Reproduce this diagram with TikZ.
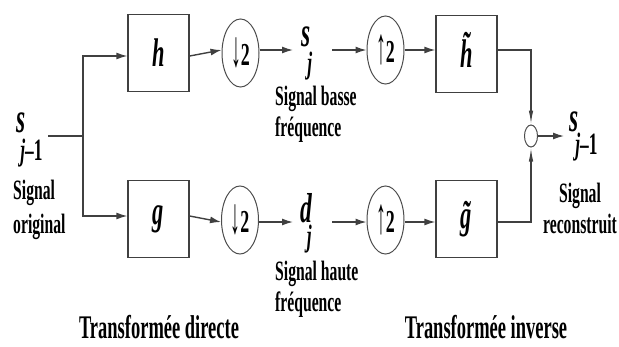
\documentclass[tikz,border=0pt]{standalone}
\usepackage{fontspec}
\newfontfamily\lblfont{Liberation Serif}[FakeStretch=0.56]
\usetikzlibrary{arrows.meta,shapes.geometric}
\newcommand\tildeon[2]{\ooalign{#2\cr\hidewidth\raisebox{#1}{˜}\hidewidth\cr}}
\newcommand\tallarrow[1]{\raisebox{-1pt}{\scalebox{1.1}[1.6]{#1}}}
\newcommand\bigs[1]{\scalebox{1.35}{#1}}
\tikzset{
  ln/.style={draw=black!75, line width=1.4pt},
  arr/.style={ln, -{Latex[length=11pt,width=7pt]}},
  varr/.style={ln, -{Latex[length=14pt,width=4.5pt]}},
  filt/.style={draw=black!75, line width=1.3pt, minimum width=61pt, minimum height=77pt, inner sep=0pt,
    font={\lblfont\bfseries\itshape\fontsize{40}{44}\selectfont}},
  samp/.style={ellipse, draw=black!70, line width=1pt, minimum width=37pt, minimum height=68pt, inner sep=0pt,
    font={\lblfont\bfseries\fontsize{32}{34}\selectfont}},
  addr/.style={ellipse, draw=black!70, line width=1pt, minimum width=13pt, minimum height=22pt, inner sep=0pt},
  lbl/.style={inner sep=0pt, font={\lblfont\bfseries\fontsize{28}{31}\selectfont}},
  sym/.style={inner sep=0pt, font={\lblfont\bfseries\itshape\fontsize{31}{34}\selectfont}},
  ttl/.style={inner sep=0pt, font={\lblfont\bfseries\fontsize{33}{36}\selectfont}},
}
\begin{document}
\begin{tikzpicture}[x=1pt,y=-1pt]
\useasboundingbox (0,0) rectangle (619,346);
% blocks
\node[filt] (h) at (158.5,53) {h};
\node[filt] (g) at (158.5,219) {g};
\node[samp] (d1) at (240.5,53) {\tallarrow{↓}2};
\node[samp] (d2) at (240,220) {\tallarrow{↓}2};
\node[samp] (u1) at (385.5,50) {\tallarrow{↑}2};
\node[samp] (u2) at (385.5,220) {\tallarrow{↑}2};
\node[filt] (ht) at (466.5,54) {\tildeon{0.2em}{h}};
\node[filt] (gt) at (466.5,219) {\tildeon{0pt}{g}};
\node[addr] (add) at (531,136) {};
% free ends
\coordinate (in) at (48,136);
\coordinate (split) at (83,136);
\coordinate (sjin) at (293,50);
\coordinate (sjout) at (332,50);
\coordinate (djin) at (293,222);
\coordinate (djout) at (332,222);
\coordinate (out) at (564,136);
% connectors
\draw[ln] (in) -- (split);
\draw[arr] (split) |- ([yshift=-3pt]h.west);
\draw[arr] (split) |- ([yshift=3pt]g.west);
\draw[arr] ([yshift=-3pt]h.east) -- (d1.west |- 0,50);
\draw[arr] ([yshift=3pt]g.east) -- (d2.west |- 0,222);
\draw[arr] (d1.east |- 0,50) -- (sjin);
\draw[arr] (d2.east |- 0,222) -- (djin);
\draw[arr] (sjout) -- (u1);
\draw[arr] (djout) -- (u2.west |- djout);
\draw[arr] (u1) -- (ht.west |- u1);
\draw[arr] (u2.east |- djout) -- (gt.west |- djout);
\draw[varr] (ht.east |- u1) -| (add);
\draw[varr] (gt.east |- djout) -| (add);
\draw[arr] (add) -- (out);
% signal labels
\node[sym, anchor=base west] (sl) at (16,132) {\bigs{s}\kern-5pt\raisebox{-28pt}{j\upshape–1}};
\node[lbl, anchor=north west, align=left] (orig) at (13,180) {Signal\\[3pt]original};
\node[sym, anchor=base west] (sj) at (301,46) {\bigs{s}\kern-3pt\raisebox{-27pt}{j}};
\node[lbl, anchor=north west, align=left] (bf) at (275,86) {Signal basse\\fréquence};
\node[sym, anchor=base west] (dj) at (300,222) {\bigs{d}\kern-5pt\raisebox{-24pt}{j}};
\node[lbl, anchor=north west, align=left] (hf) at (275,261) {Signal haute\\fréquence};
\node[sym, anchor=base west] (sr) at (569,131) {\bigs{s}\kern-3pt\raisebox{-23pt}{j\upshape–1}};
\node[lbl, anchor=north, align=center] (rec) at (580,183) {Signal\\reconstruit};
% titles
\node[ttl, anchor=base] (td) at (159,338) {Transformée directe};
\node[ttl, anchor=base] (ti) at (486,338) {Transformée inverse};
\end{tikzpicture}
\end{document}
